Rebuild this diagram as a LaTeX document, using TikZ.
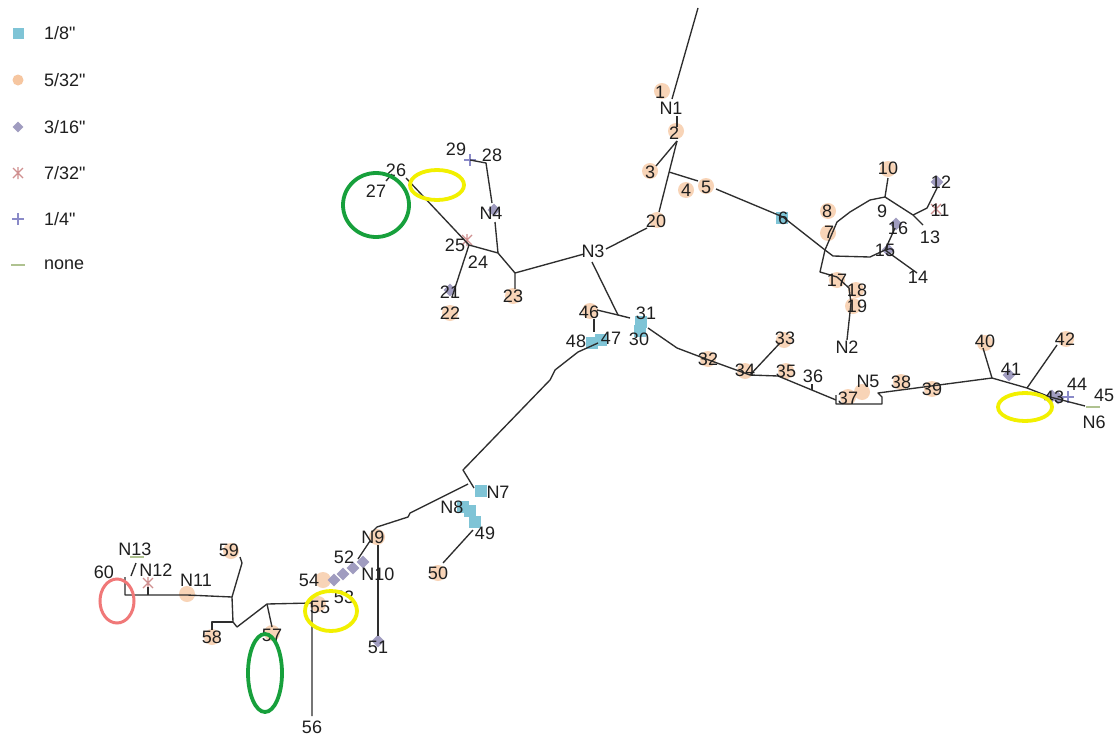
\documentclass[tikz,border=0pt]{standalone}
\usepackage{fontspec}
\setmainfont{Liberation Sans}[Ligatures=TeXOff]
\usetikzlibrary{shapes.geometric}
\definecolor{peach}{HTML}{F6C6A0}
\definecolor{tealb}{HTML}{7FC4D6}
\definecolor{lav}{HTML}{A09CC0}
\definecolor{pinkx}{HTML}{D09090}
\definecolor{plusc}{HTML}{8A8AC8}
\definecolor{nonec}{HTML}{AFC290}
\definecolor{ygreen}{HTML}{17A03C}
\definecolor{yel}{HTML}{F2F000}
\definecolor{redc}{HTML}{F07878}
\begin{document}
\begin{tikzpicture}[x=1pt,y=-1pt,
  wire/.style={draw=black!82, line width=1.35pt, line join=round},
  lbl/.style={font=\fontsize{18}{19}\selectfont, text=black!88, inner sep=0pt},
  leg/.style={font=\fontsize{18}{19}\selectfont, text=black!88, inner sep=0pt, anchor=west},
  msq/.style={rectangle, fill=tealb, minimum size=12pt, inner sep=0pt},
  mci/.style={circle, fill=peach, fill opacity=0.75, minimum size=16pt, inner sep=0pt},
  mcs/.style={circle, fill=peach, minimum size=11pt, inner sep=0pt},
  mdi/.style={diamond, fill=lav, minimum size=13pt, inner sep=0pt},
  ast/.pic={\draw[pinkx, line width=1.2pt] (-5,-5)--(5,5) (-5,5)--(5,-5) (0,-6)--(0,6);},
  pls/.pic={\draw[plusc, line width=1.1pt] (-6,0)--(6,0) (0,-6)--(0,6);},
  nn/.pic={\draw[nonec, line width=2.5pt] (-7,0)--(7,0);},
  ring/.style={line width=3.8pt}
]
\useasboundingbox (0,0) rectangle (1117,736);
\fill[white] (0,0) rectangle (1117,736);

% ---------- legend ----------
\node[msq, minimum size=11pt] (lgA) at (18,33) {};
\node[leg] (lgAt) at (44,33) {1/8"};
\node[mcs] (lgB) at (18,80) {};
\node[leg] (lgBt) at (44,80) {5/32"};
\node[mdi, minimum size=11pt] (lgC) at (18,127) {};
\node[leg] (lgCt) at (44,127) {3/16"};
\pic at (18,173) {ast};
\node[leg] (lgDt) at (44,173) {7/32"};
\pic at (18,219) {pls};
\node[leg] (lgEt) at (44,219) {1/4"};
\pic at (18,265) {nn};
\node[leg] (lgFt) at (44,265) {none};

% ---------- markers ----------
\foreach \nm/\x/\y in {a1/662/91, a2/676/131, a3/650/171, a4/686/190, a5/706/186, a20/657/220,
  a7/828/233, a8/828/211, a10/888/169, a17/837/280, a18/856/290, a19/853/306, a22/450/313,
  a23/513/296, a46/590/311, a32/708/359, a34/745/371, a35/786/371, a37/848/397, aN5/862/392,
  a38/901/382, a39/932/389, a40/985/343, a42/1066/339, a50/438/573, a54/323/580, a55/318/604,
  a57/272/633, a58/212/637, a59/231/551, aN11/187/594, aN9/377/537, a33/784/340}
  \node[mci] (\nm) at (\x,\y) {};
\foreach \nm/\x/\y in {b6/782/218, b31/641/322, b30/640/331, b47/601/340, b48/592/343,
  bN7/481/491, bN8/470/511, b49/475/522, bN8b/463/507}
  \node[msq] (\nm) at (\x,\y) {};
\foreach \nm/\x/\y in {d16/896/224, d15/888/250, d41/1009/375, d43/1052/396, d43b/1058/398,
  d52a/363/562, d52b/353/568, d52c/343/574, d52d/334/580, d12/937/182, dN4/494/210, d21/450/290, d51/378/641}
  \node[mdi] (\nm) at (\x,\y) {};
\pic at (467,240) {ast};
\pic at (148,583) {ast};
\pic at (936,209) {ast};
\pic at (470,160) {pls};
\pic at (1068,397) {pls};
\pic at (1093,407) {nn};
\pic at (137,557) {nn};

% ---------- coordinates ----------
\coordinate (top) at (698,8);   \coordinate (c1) at (672,99);
\coordinate (n1a) at (677,116); \coordinate (n1b) at (677,127);
\coordinate (c2) at (677,141);  \coordinate (c3) at (656,166);
\coordinate (c20) at (659,212); \coordinate (j45) at (669,172);
\coordinate (c4) at (698,181);  \coordinate (c5) at (716,189);
\coordinate (c6) at (783,217);  \coordinate (j7) at (825,250);
\coordinate (c20b) at (647,228); \coordinate (cn3r) at (606,249);
\coordinate (cn3l) at (584,254); \coordinate (cn3d) at (592,262);
\coordinate (j23) at (515,273); \coordinate (c23) at (515,289);
\coordinate (j24) at (498,253); \coordinate (c25) at (469,245);
\coordinate (cn4b) at (495,222); \coordinate (cn4t) at (492,203);
\coordinate (c28) at (486,163); \coordinate (c29) at (470,160);
\coordinate (c26) at (406,178); \coordinate (c27a) at (392,174); \coordinate (c27) at (386,181);
\coordinate (c21) at (452,297);
\coordinate (j31) at (618,315); \coordinate (c46) at (597,310);
\coordinate (c46b) at (594,319); \coordinate (c47) at (594,332);
\coordinate (c31) at (630,318); \coordinate (c30) at (648,328);
\coordinate (q1) at (677,348);  \coordinate (c32) at (706,359);
\coordinate (c34) at (750,375); \coordinate (c33) at (780,343);
\coordinate (c35) at (778,376); \coordinate (c37a) at (836,400);
\coordinate (c36a) at (812,390); \coordinate (c36b) at (812,384);
\coordinate (b1) at (836,395); \coordinate (b2) at (836,404); \coordinate (b3) at (882,404);
\coordinate (b4) at (882,397); \coordinate (b5) at (878,393);
\coordinate (j41) at (992,378); \coordinate (c40) at (983,348);
\coordinate (j43) at (1027,388); \coordinate (c42) at (1057,345);
\coordinate (c43) at (1050,397); \coordinate (cn6) at (1085,406);
\coordinate (c7) at (837,222); \coordinate (c8) at (850,212); \coordinate (c9) at (870,200);
\coordinate (j10) at (885,197); \coordinate (c10) at (888,178);
\coordinate (j11) at (913,215); \coordinate (c13) at (923,225);
\coordinate (c11) at (927,208); \coordinate (c12) at (937,188);
\coordinate (k15a) at (833,256); \coordinate (k15b) at (870,257);
\coordinate (c15) at (885,250); \coordinate (c16) at (895,228); \coordinate (c14) at (917,273);
\coordinate (k17) at (820,272); \coordinate (c17) at (837,277);
\coordinate (c18) at (849,288); \coordinate (c19) at (851,303); \coordinate (cn2) at (847,340);
\coordinate (c48) at (598,343); \coordinate (dd1) at (578,352); \coordinate (dd2) at (555,370);
\coordinate (dd3) at (550,380); \coordinate (dd4) at (463,470); \coordinate (jn7) at (468,484);
\coordinate (cn7) at (474,488);
\coordinate (e1) at (410,513); \coordinate (e2) at (408,517); \coordinate (e3) at (377,527);
\coordinate (cn9) at (372,532);
\coordinate (c49) at (473,530); \coordinate (c50) at (443,563);
\coordinate (cn9b) at (378,545); \coordinate (c51) at (378,636);
\coordinate (cn9c) at (370,541); \coordinate (c52) at (358,559);
\coordinate (j57) at (267,604); \coordinate (c55) at (312,603); \coordinate (c56) at (312,716);
\coordinate (c57) at (272,627);
\coordinate (k1) at (237,627); \coordinate (k2) at (233,622); \coordinate (j59) at (232,597);
\coordinate (c58a) at (212,622); \coordinate (c58) at (212,630);
\coordinate (c59a) at (242,563); \coordinate (c59) at (240,557);
\coordinate (cn11) at (187,595); \coordinate (cn12) at (148,595); \coordinate (cn12t) at (148,587);
\coordinate (c60) at (125,595); \coordinate (c60t) at (125,577);
\coordinate (cn13a) at (131,576); \coordinate (cn13b) at (136,563);

% ---------- connectors ----------
\draw[wire] (top) -- (c1);
\draw[wire] (n1a) -- (n1b);
\draw[wire] (c2) -- (c3);
\draw[wire] (c2) -- (c20);
\draw[wire] (j45) -- (c4);
\draw[wire] (c5) -- (c6) -- (j7);
\draw[wire] (c20b) -- (cn3r);
\draw[wire] (cn3l) -- (j23) -- (c23);
\draw[wire] (cn3d) -- (j31);
\draw[wire] (j23) -- (j24) -- (c25);
\draw[wire] (j24) -- (cn4b);
\draw[wire] (cn4t) -- (c28) -- (c29);
\draw[wire] (c25) -- (c26);
\draw[wire] (c27a) -- (c27);
\draw[wire] (c25) -- (c21);
\draw[wire] (j31) -- (c46);
\draw[wire] (c46b) -- (c47);
\draw[wire] (j31) -- (c31);
\draw[wire] (c30) -- (q1) -- (c32) -- (c34) -- (c33);
\draw[wire] (c34) -- (c35) -- (c37a);
\draw[wire] (c36a) -- (c36b);
\draw[wire] (b1) -- (b2) -- (b3) -- (b4) -- (b5) -- (j41) -- (c40);
\draw[wire] (j41) -- (j43) -- (c42);
\draw[wire] (j43) -- (c43) -- (cn6);
\draw[wire] (j7) -- (c7) -- (c8) -- (c9) -- (j10) -- (c10);
\draw[wire] (j10) -- (j11) -- (c13);
\draw[wire] (j11) -- (c11) -- (c12);
\draw[wire] (j7) -- (k15a) -- (k15b) -- (c15) -- (c16);
\draw[wire] (c15) -- (c14);
\draw[wire] (j7) -- (k17) -- (c17) -- (c18) -- (c19) -- (cn2);
\draw[wire] (c48) -- (dd1) -- (dd2) -- (dd3) -- (dd4) -- (cn7);
\draw[wire] (jn7) -- (e1) -- (e2) -- (e3) -- (cn9);
\draw[wire] (c49) -- (c50);
\draw[wire] (cn9b) -- (c51);
\draw[wire] (cn9c) -- (c52);
\draw[wire] (j57) -- (c55) -- (c56);
\draw[wire] (j57) -- (c57);
\draw[wire] (j57) -- (k1) -- (k2) -- (j59);
\draw[wire] (k2) -- (c58a) -- (c58);
\draw[wire] (j59) -- (c59a) -- (c59);
\draw[wire] (j59) -- (cn11) -- (cn12) -- (c60) -- (c60t);
\draw[wire] (cn12) -- (cn12t);
\draw[wire] (cn13a) -- (cn13b);

% ---------- labels ----------
\foreach \nm/\x/\y/\t in {L1/660/92/1, LN1/671/108/N1, L2/674/133/2, L3/650/172/3, L4/686/190/4,
  L5/706/187/5, L20/656/221/20, L6/783/218/6, L7/829/232/7, L8/827/211/8, L9/882/211/9,
  L10/888/168/10, L11/940/210/11, L12/941/182/12, L13/930/237/13, L14/918/277/14,
  L15/885/250/15, L16/898/228/16, L17/837/280/17, L18/857/290/18, L19/857/306/19,
  LN2/847/347/N2, LN3/593/251/N3, LN4/491/213/N4, L23/513/296/23, L24/478/262/24,
  L25/455/245/25, L26/396/170/26, L27/376/191/27, L28/492/155/28, L29/456/149/29,
  L21/450/292/21, L22/450/313/22, L46/589/312/46, L47/611/338/47, L48/576/341/48,
  L31/646/313/31, L30/639/339/30, L32/708/359/32, L33/785/338/33, L34/745/370/34,
  L35/786/371/35, L36/813/376/36, L37/848/398/37, LN5/868/381/N5, L38/901/382/38,
  L39/932/389/39, L40/985/341/40, L41/1011/369/41, L42/1065/339/42, L43/1054/397/43,
  L44/1077/384/44, L45/1104/395/45, LN6/1094/422/N6, LN7/498/492/N7, LN8/452/507/N8,
  L49/485/533/49, L50/438/573/50, LN9/373/537/N9, L52/344/557/52, LN10/378/574/N10,
  L54/309/580/54, L53/344/597/53, L55/320/607/55, L51/378/647/51, L56/312/727/56,
  L57/272/635/57, L58/212/637/58, L59/229/550/59, LN11/196/580/N11, LN12/156/570/N12,
  LN13/135/549/N13, L60/104/572/60}
  \node[lbl] (\nm) at (\x,\y) {\t};

% ---------- highlight rings ----------
\draw[ring, ygreen] (376,205) ellipse [x radius=33, y radius=32];
\draw[ring, ygreen] (265,673) ellipse [x radius=17, y radius=39];
\draw[ring, yel] (437,185) ellipse [x radius=27, y radius=15];
\draw[ring, yel] (331,611) ellipse [x radius=26, y radius=20];
\draw[ring, yel] (1025,407) ellipse [x radius=27, y radius=14];
\draw[line width=3pt, redc] (117,601) ellipse [x radius=17, y radius=22];
\end{tikzpicture}
\end{document}
